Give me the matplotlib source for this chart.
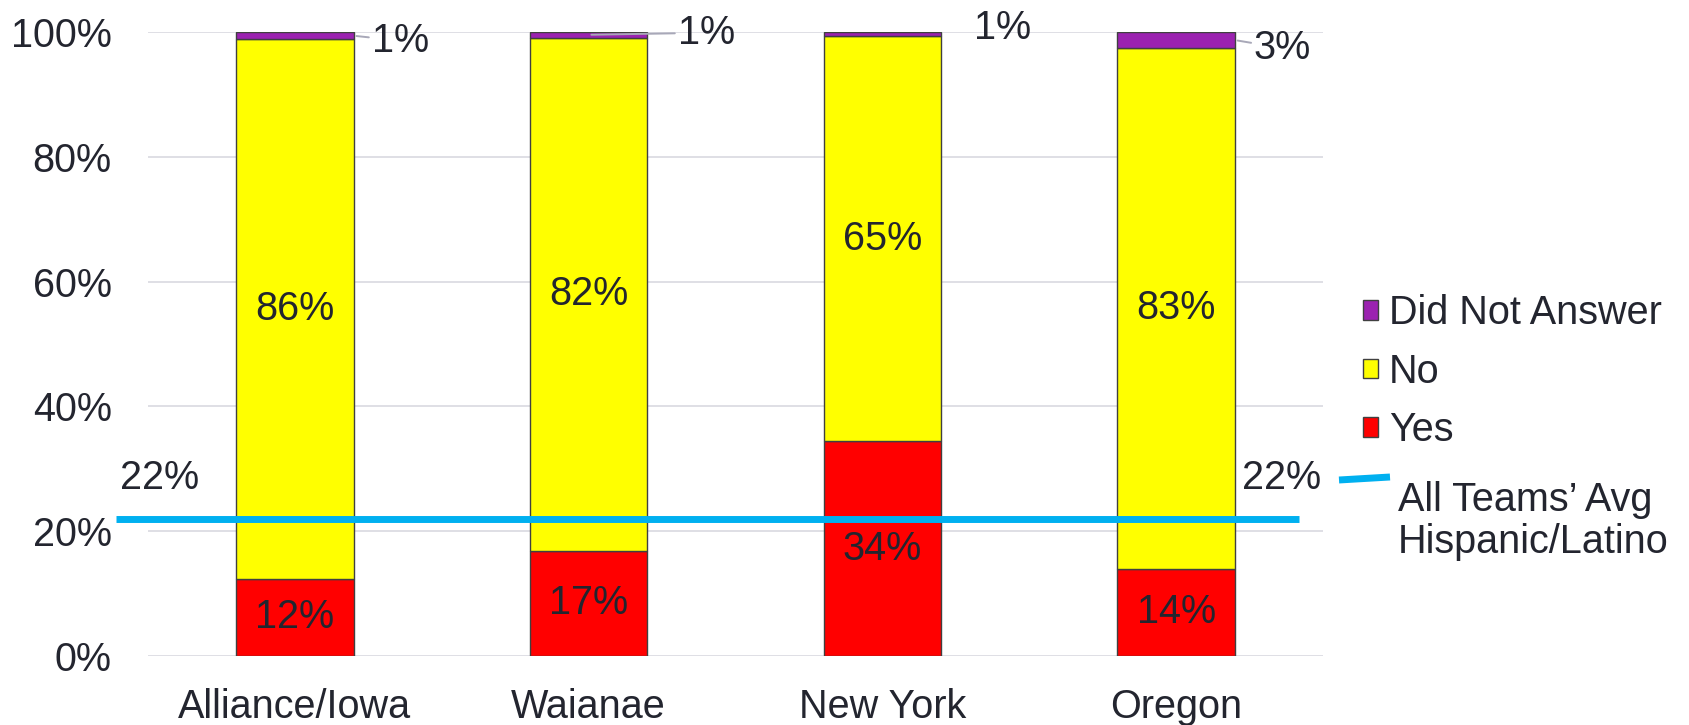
import matplotlib.pyplot as plt
from matplotlib.patches import Patch

plt.rcParams['font.family'] = ['Liberation Sans', 'DejaVu Sans']

teams = ['Alliance/Iowa', 'Waianae', 'New York', 'Oregon']
yes = [12.4, 16.9, 34.4, 14.0]
no = [86.4, 82.2, 65.0, 83.4]
no_answer = [1.2, 0.9, 0.6, 2.6]
avg_latino = 22

txt_col = '#23252f'
c_yes, c_no, c_na = '#ff0000', '#ffff00', '#9b22b0'
fs = 28.5

fig = plt.figure(figsize=(16.89, 7.25), dpi=100)
ax = fig.add_axes([0.0876, 0.0952, 0.6957, 0.8607])

x = range(len(teams))
w = 0.40
b_yes = ax.bar(x, yes, w, color=c_yes, edgecolor='#404040', lw=1, zorder=2)
b_no = ax.bar(x, no, w, bottom=yes, color=c_no, edgecolor='#404040', lw=1, zorder=2)
tops = [a + b for a, b in zip(yes, no)]
b_na = ax.bar(x, no_answer, w, bottom=tops, color=c_na, edgecolor='#404040', lw=1, zorder=2)

# values inside the red and yellow segments
for i in x:
    ax.text(i, yes[i] / 2, f'{yes[i]:.0f}%', ha='center', va='center',
            fontsize=fs, color=txt_col, zorder=4)
    ax.text(i, yes[i] + no[i] / 2, f'{no[i]:.0f}%', ha='center', va='center',
            fontsize=fs, color=txt_col, zorder=4)

# small "did not answer" values sit outside the bars
na_anchor = [0.2, 0.0, 0.0, 0.2]
na_offset = [(18, -5), (89, 2), (92, 6), (19, -8)]
na_leader = [True, True, False, True]
for i in x:
    y0 = tops[i] + no_answer[i] / 2
    props = dict(arrowstyle='-', color='#a8a8b8', lw=1.4, shrinkA=0, shrinkB=2) if na_leader[i] else None
    ax.annotate(f'{no_answer[i]:.0f}%', xy=(i + na_anchor[i], y0),
                xytext=na_offset[i], textcoords='offset pixels',
                ha='left', va='center', fontsize=fs, color=txt_col,
                arrowprops=props, annotation_clip=False, zorder=4)

# average line across all teams
ax.plot([-0.61, 3.42], [avg_latino, avg_latino], color='#00b0f0', lw=5,
        solid_capstyle='butt', clip_on=False, zorder=3)
ax.text(-0.46, avg_latino + 6.6, f'{avg_latino}%', ha='center', va='center',
        fontsize=fs, color=txt_col)
ax.text(3.36, avg_latino + 6.6, f'{avg_latino}%', ha='center', va='center',
        fontsize=fs, color=txt_col)

ax.set_xlim(-0.5, 3.5)
ax.set_ylim(0, 100)
ax.set_yticks(range(0, 101, 20))
ax.set_yticklabels([f'{v}%' for v in range(0, 101, 20)])
ax.set_xticks(list(x))
ax.set_xticklabels(teams)
ax.tick_params(axis='both', length=0, labelsize=fs, labelcolor=txt_col)
ax.tick_params(axis='y', pad=26)
ax.tick_params(axis='x', pad=23)
ax.grid(axis='y', color='#d9d9e0', lw=1.2, zorder=0)
ax.set_axisbelow(True)
for s in ax.spines.values():
    s.set_visible(False)

handles = [Patch(facecolor=c_na, edgecolor='#404040', lw=1),
           Patch(facecolor=c_no, edgecolor='#404040', lw=1),
           Patch(facecolor=c_yes, edgecolor='#404040', lw=1)]
fig.legend(handles, ['Did Not Answer', 'No', 'Yes'], loc='upper left',
           bbox_to_anchor=(1363 / 1689, 1 - 294 / 725), frameon=False,
           fontsize=fs, labelcolor=txt_col, handlelength=0.38, handleheight=0.38,
           handletextpad=0.28, labelspacing=0.52, borderpad=0, borderaxespad=0)

# legend entry for the average line
fig.add_artist(plt.Line2D([1339 / 1689, 1390 / 1689], [1 - 480 / 725, 1 - 477 / 725],
                          color='#00b0f0', lw=5, solid_capstyle='butt'))
fig.text(1398 / 1689, 1 - 521 / 725, 'All Teams\u2019 Avg\nHispanic/Latino',
         ha='left', va='center', fontsize=fs, color=txt_col, linespacing=1.12)

fig.savefig('out.png', dpi=100)
